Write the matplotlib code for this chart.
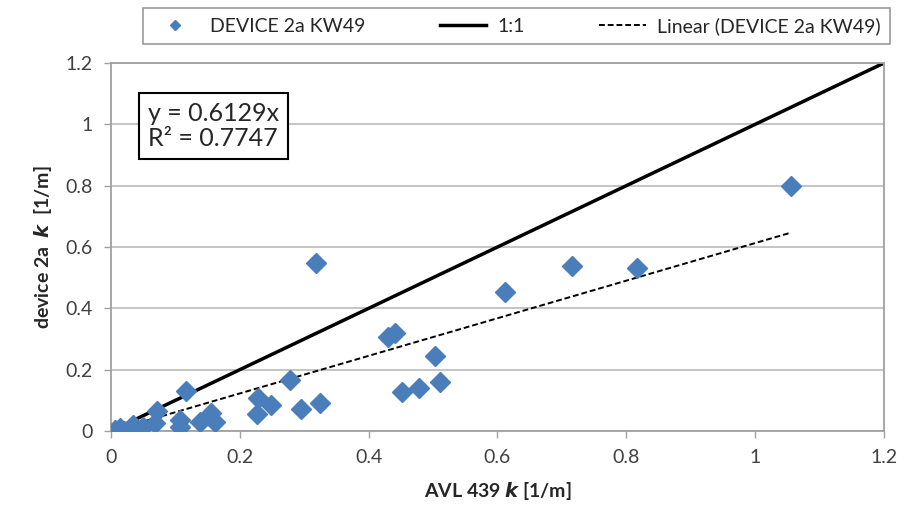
import numpy as np
import matplotlib.pyplot as plt

plt.rcParams['font.family'] = ['Lato', 'DejaVu Sans']

# AVL 439 k vs device 2a k [1/m]
avl_k = [1.056, 0.319, 0.716, 0.817, 0.611, 0.430, 0.441, 0.503, 0.511,
         0.478, 0.452, 0.325, 0.295, 0.278, 0.248, 0.229, 0.227, 0.116,
         0.071, 0.156, 0.161, 0.138, 0.107, 0.107, 0.068, 0.050, 0.034,
         0.014, 0.006, 0.030, 0.020]
dev_k = [0.800, 0.547, 0.538, 0.531, 0.452, 0.307, 0.318, 0.246, 0.161,
         0.141, 0.128, 0.092, 0.072, 0.166, 0.085, 0.107, 0.054, 0.130,
         0.065, 0.058, 0.030, 0.030, 0.035, 0.013, 0.026, 0.013, 0.020,
         0.010, 0.003, 0.003, 0.000]
slope = 0.6129
r2 = 0.7747

blue = '#4A7EBB'
grey = '#BFBFBF'

fig = plt.figure(figsize=(9.11, 5.13), dpi=100)
ax = fig.add_axes([0.1218, 0.1598, 0.8486, 0.7174])

ax.plot(avl_k, dev_k, 'D', color=blue, markersize=10, zorder=3,
        label='DEVICE 2a KW49')
ax.plot([0, 1.2], [0, 1.2], '-', color='black', lw=2.5, zorder=2, label='1:1')
xfit = np.array([0, max(avl_k)])
ax.plot(xfit, slope * xfit, '--', color='black', lw=1.4, dashes=(3, 1.5),
        zorder=2, label='Linear (DEVICE 2a KW49)')

ax.set_xlim(0, 1.2)
ax.set_ylim(0, 1.2)
ticks = [0, 0.2, 0.4, 0.6, 0.8, 1, 1.2]
tlabels = ['0', '0.2', '0.4', '0.6', '0.8', '1', '1.2']
ax.set_xticks(ticks)
ax.set_xticklabels(tlabels)
ax.set_yticks(ticks)
ax.set_yticklabels(tlabels)
ax.tick_params(labelsize=14, colors='#404040', length=5, width=1,
               color='#A0A0A0', pad=8)
ax.grid(axis='y', color=grey, lw=1.3)
ax.set_axisbelow(True)
for s in ax.spines.values():
    s.set_color('#A0A0A0')
    s.set_linewidth(1.3)

ax.set_xlabel('AVL 439 $\\mathbfit{k}$ [1/m]', fontsize=14, fontweight='bold',
              color='#262626', labelpad=10)
ax.set_ylabel('device 2a  $\\mathbfit{k}$  [1/m]', fontsize=14,
              fontweight='bold', color='#262626', labelpad=8)

ax.text(0.048, 0.895, f'y = {slope}x\nR² = {r2}',
        transform=ax.transAxes, fontsize=18, va='top', ha='left',
        color='#262626', linespacing=1.15,
        bbox=dict(boxstyle='square,pad=0.35', fc='white', ec='black', lw=1.5))

leg = fig.legend(loc='center', bbox_to_anchor=(0.567, 0.949), ncol=3,
                 fontsize=14, frameon=True, fancybox=False, markerscale=0.55,
                 handlelength=2.4, columnspacing=3.8, borderpad=0.45,
                 handletextpad=0.6, borderaxespad=0)
leg.get_frame().set_edgecolor('#808080')
leg.get_frame().set_linewidth(1.2)
for t in leg.get_texts():
    t.set_color('#262626')

fig.savefig('out.png', dpi=100)
